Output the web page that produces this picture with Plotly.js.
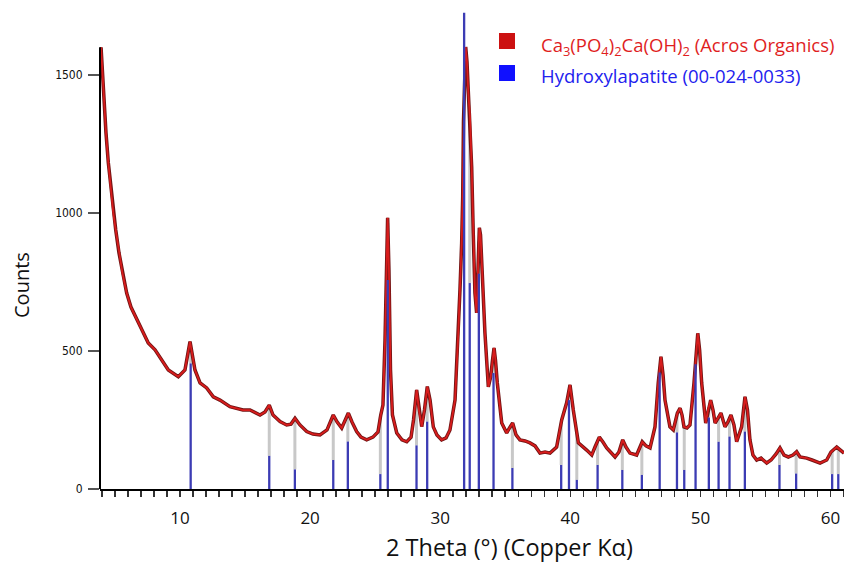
<!DOCTYPE html>
<html>
<head>
<meta charset="utf-8">
<script src="https://cdn.plot.ly/plotly-3.0.1.min.js"></script>
<style>html,body{margin:0;padding:0;background:#fff;}#chart{width:844px;height:563px;}</style>
</head>
<body>
<div id="chart"></div>
<script>
// Measured XRD pattern: Ca3(PO4)2Ca(OH)2 (Acros Organics)
const twoTheta = [3.93,4.03,4.16,4.31,4.49,4.67,4.87,5.06,5.31,5.57,
5.90,6.23,6.59,7.06,7.56,8.08,8.59,9.10,9.87,10.38,
10.77,11.15,11.54,12.05,12.56,13.07,13.84,14.84,15.38,16.15,
16.53,16.86,17.15,17.69,18.20,18.53,18.84,19.22,19.74,20.22,
20.76,21.30,21.78,22.07,22.43,22.94,23.22,23.58,23.91,24.35,
24.83,25.22,25.43,25.60,25.76,25.87,25.96,26.06,26.18,26.33,
26.66,27.06,27.43,27.76,27.95,28.19,28.37,28.58,28.79,29.01,
29.22,29.47,29.75,30.11,30.45,30.75,31.14,31.39,31.52,31.65,
31.73,31.79,31.87,31.96,32.06,32.16,32.29,32.42,32.54,32.67,
32.80,32.90,33.01,33.10,33.19,33.33,33.44,33.70,33.88,34.02,
34.14,34.25,34.39,34.73,35.11,35.33,35.57,35.83,36.13,36.52,
36.90,37.29,37.67,38.06,38.44,38.95,39.34,39.72,39.98,40.23,
40.62,41.26,41.65,41.90,42.23,42.51,42.80,43.44,43.74,44.03,
44.28,44.59,45.10,45.53,45.82,46.13,46.51,46.76,46.97,47.13,
47.28,47.66,47.92,48.23,48.44,48.59,48.74,48.97,49.20,49.51,
49.69,49.80,49.94,50.10,50.41,50.59,50.79,50.97,51.13,51.36,
51.58,51.89,52.12,52.35,52.58,52.79,53.17,53.43,53.62,53.81,
54.04,54.33,54.66,55.10,55.43,55.82,56.12,56.43,56.76,57.12,
57.40,57.66,58.17,58.58,59.20,59.71,60.04,60.48,60.73,61.04];
const counts = [1600,1507,1385,1290,1181,1095,1000,938,855,783,
710,659,623,576,529,504,467,431,407,431,
534,431,384,366,334,322,298,286,286,268,
279,304,268,244,232,235,256,232,208,199,
196,214,268,243,221,275,243,208,188,178,
188,207,268,304,540,812,982,793,431,268,
203,178,171,188,250,359,286,226,286,371,
322,225,196,178,185,214,322,565,721,891,
1058,1330,1518,1601,1547,1435,1348,1167,927,710,
638,812,946,920,804,685,565,370,406,467,
511,467,384,239,203,221,239,196,178,174,
167,156,130,134,130,152,250,312,377,286,
167,141,123,152,188,170,149,116,134,178,
152,130,123,171,156,149,225,384,479,413,
322,225,214,275,293,268,225,221,232,384,
522,564,504,384,239,286,322,286,239,257,
275,225,243,268,232,171,225,334,286,178,
123,105,112,94,105,127,149,123,116,123,
135,116,112,105,94,105,134,152,141,130];

// Reference pattern: Hydroxylapatite (00-024-0033)
const refTheta = [10.82,16.86,18.83,21.78,22.90,25.40,25.97,28.18,29.00,31.84,32.27,32.97,34.10,35.55,39.30,39.90,40.50,42.10,44.00,45.50,46.87,48.20,48.76,49.63,50.65,51.40,52.24,53.42,56.08,57.36,60.13,60.60];
const refIntensity = [455,120,71,105,172,54,757,158,244,1725,746,780,420,76,87,322,33,87,69,51,422,205,69,452,259,171,190,208,87,56,54,54];

const xTickVals = [10,20,30,40,50,60];
const yTickVals = [0,500,1000,1500];
const yAxisTop = 1600;

const sampleLabel = 'Ca<sub>3</sub>(PO<sub>4</sub>)<sub>2</sub>Ca(OH)<sub>2</sub> (Acros Organics)';
const refLabel = 'Hydroxylapatite (00-024-0033)';
const xTitle = '2 Theta (°) (Copper Kα)';
const yTitle = 'Counts';

function curveAt(x) {
  for (let i = 0; i < twoTheta.length - 1; i++) {
    if (x >= twoTheta[i] && x <= twoTheta[i + 1]) {
      const t = (x - twoTheta[i]) / (twoTheta[i + 1] - twoTheta[i]);
      return counts[i] + t * (counts[i + 1] - counts[i]);
    }
  }
  return null;
}

const blueX = [], blueY = [], greyX = [], greyY = [];
refTheta.forEach((p, i) => {
  blueX.push(p, p, null); blueY.push(0, refIntensity[i], null);
  const c = curveAt(p);
  if (c !== null && c > refIntensity[i]) {
    greyX.push(p, p, null); greyY.push(refIntensity[i], c, null);
  }
});

const traces = [
  {x: greyX, y: greyY, type: 'scatter', mode: 'lines', line: {color: '#c8c8c8', width: 3}, hoverinfo: 'skip', showlegend: false},
  {x: twoTheta, y: counts, type: 'scatter', mode: 'lines', line: {color: '#701414', width: 3.5}, hoverinfo: 'skip', showlegend: false},
  {x: twoTheta, y: counts, type: 'scatter', mode: 'lines', line: {color: '#d81c1c', width: 1.8}, showlegend: false},
  {x: blueX, y: blueY, type: 'scatter', mode: 'lines', line: {color: '#3c3cb4', width: 2.3}, showlegend: false}
];

const px = v => (v - 100) / 744;
const py = v => (489 - v) / 479;

const layout = {
  width: 844, height: 563,
  margin: {l: 100, r: 0, t: 10, b: 74, pad: 0},
  paper_bgcolor: '#ffffff', plot_bgcolor: '#ffffff',
  showlegend: false,
  xaxis: {
    range: [3.85, 61.04], showgrid: false, zeroline: false,
    showline: true, linecolor: '#000', linewidth: 2,
    tickmode: 'array', tickvals: xTickVals,
    ticks: 'outside', ticklen: 6, tickwidth: 1.5, tickcolor: '#333',
    minor: {dtick: 1, tick0: 0, ticks: 'outside', ticklen: 6, tickwidth: 1.5, tickcolor: '#333', showgrid: false},
    ticklabelstandoff: 7,
    tickfont: {family: 'Open Sans, sans-serif', size: 17, color: '#111'}
  },
  yaxis: {
    range: [0, 1735], showgrid: false, zeroline: false, showline: false,
    tickmode: 'array', tickvals: yTickVals,
    ticks: 'outside', ticklen: 11, tickwidth: 1.5, tickcolor: '#555',
    ticklabelstandoff: 3,
    tickfont: {family: 'DejaVu Sans Condensed, DejaVu Sans, sans-serif', size: 12, color: '#111'}
  },
  shapes: [
    {type: 'line', xref: 'paper', yref: 'y', x0: 0, x1: 0, y0: 0, y1: yAxisTop, line: {color: '#000', width: 2}},
    {type: 'rect', xref: 'paper', yref: 'paper', x0: px(499), x1: px(515), y0: py(49), y1: py(33), fillcolor: '#cc1111', line: {width: 0}},
    {type: 'rect', xref: 'paper', yref: 'paper', x0: px(499), x1: px(515), y0: py(81), y1: py(65), fillcolor: '#1010ff', line: {width: 0}}
  ],
  annotations: [
    {xref: 'paper', yref: 'paper', x: px(539), y: py(46), xanchor: 'left', yanchor: 'middle', showarrow: false, text: sampleLabel, font: {family: 'Open Sans, sans-serif', size: 18.5, color: '#e01e1e'}},
    {xref: 'paper', yref: 'paper', x: px(539), y: py(75), xanchor: 'left', yanchor: 'middle', showarrow: false, text: refLabel, font: {family: 'Open Sans, sans-serif', size: 18.5, color: '#2222ee'}},
    {xref: 'paper', yref: 'paper', x: px(510), y: py(547), xanchor: 'center', yanchor: 'middle', borderpad: 0, showarrow: false, text: xTitle, font: {family: 'Open Sans, sans-serif', size: 23.5, color: '#111'}},
    {xref: 'paper', yref: 'paper', x: px(21), y: py(285), xanchor: 'center', yanchor: 'middle', textangle: -90, showarrow: false, text: yTitle, font: {family: 'Open Sans, sans-serif', size: 20, color: '#111'}}
  ]
};

Plotly.newPlot('chart', traces, layout, {staticPlot: true, displayModeBar: false});
</script>
</body>
</html>
